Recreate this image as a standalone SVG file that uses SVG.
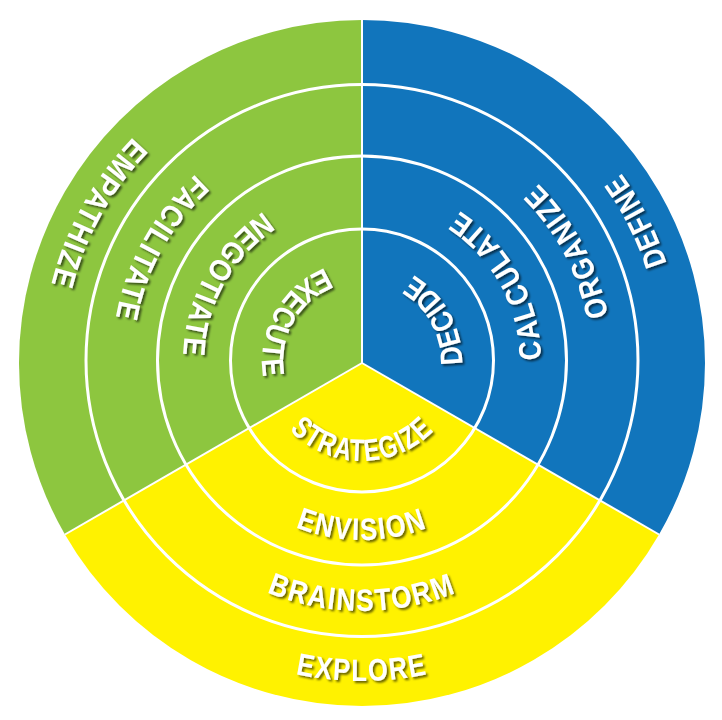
<svg xmlns="http://www.w3.org/2000/svg" xmlns:xlink="http://www.w3.org/1999/xlink" width="722" height="720" viewBox="0 0 722 720">
<style>
  .lbl { font-family: "Liberation Sans", Arial, sans-serif; font-weight: bold; font-size: 31px; letter-spacing: 2px; fill: #ffffff; filter: url(#shadow); }
  .ring { fill: none; stroke: #ffffff; stroke-width: 3; }
  .div { stroke: #ffffff; stroke-width: 2; }
</style>
<defs>
  <filter id="shadow" x="-20%" y="-40%" width="140%" height="180%">
    <feDropShadow dx="2" dy="2" stdDeviation="1.3" flood-color="#000000" flood-opacity="0.6"/>
  </filter>
  <path id="y0" d="M263.52,378.36 A100,100 0 0 0 460.48,378.36"/>
  <path id="y1" d="M206.98,450.5 A179,179 0 0 0 517.02,450.5"/>
  <path id="y2" d="M145.49,486 A250,250 0 0 0 578.51,486"/>
  <path id="y3" d="M84.87,521 A320,320 0 0 0 639.13,521"/>
  <path id="g0" d="M394.56,266.45 A100,100 0 0 0 299.07,438.72"/>
  <path id="g1" d="M358.88,182.03 A179,179 0 0 0 208.57,453.19"/>
  <path id="g2" d="M357.64,111.04 A250,250 0 0 0 147.71,489.76"/>
  <path id="g3" d="M356.42,41.05 A320,320 0 0 0 87.71,525.81"/>
  <path id="b0" d="M424.93,438.72 A100,100 0 0 0 329.44,266.45"/>
  <path id="b1" d="M515.43,453.19 A179,179 0 0 0 365.12,182.03"/>
  <path id="b2" d="M574.01,493.48 A250,250 0 0 0 370.72,111.15"/>
  <path id="b3" d="M630.37,535.28 A320,320 0 0 0 378.75,41.44"/>
</defs>
<rect width="722" height="720" fill="#ffffff"/>
<g id="sector-green">
  <path d="M362,363 L362,20 A343,343 0 0 0 64.95,534.5 Z" fill="#8DC63F"/>
</g>
<g id="sector-blue">
  <path d="M362,363 L362,20 A343,343 0 0 1 659.05,534.5 Z" fill="#1175BC"/>
</g>
<g id="sector-yellow">
  <path d="M362,363 L64.95,534.5 A343,343 0 0 0 659.05,534.5 Z" fill="#FFF200"/>
</g>
<g id="rings">
  <circle class="ring" cx="362" cy="360.5" r="131.5"/>
  <circle class="ring" cx="362" cy="360.5" r="204.5"/>
  <circle class="ring" cx="362" cy="360.5" r="276"/>
</g>
<g id="connectors">
  <line class="div" x1="362" y1="363" x2="362" y2="20"/>
  <line class="div" x1="362" y1="363" x2="64.95" y2="534.5"/>
  <line class="div" x1="362" y1="363" x2="659.05" y2="534.5"/>
</g>
<g id="labels-yellow">
  <g id="strategize"><text class="lbl" text-anchor="middle"><textPath xlink:href="#y0" href="#y0" startOffset="50%" textLength="162" lengthAdjust="spacingAndGlyphs">STRATEGIZE</textPath></text></g>
  <g id="envision"><text class="lbl" text-anchor="middle"><textPath xlink:href="#y1" href="#y1" startOffset="50%" textLength="136" lengthAdjust="spacingAndGlyphs">ENVISION</textPath></text></g>
  <g id="brainstorm"><text class="lbl" text-anchor="middle"><textPath xlink:href="#y2" href="#y2" startOffset="50%" textLength="195" lengthAdjust="spacingAndGlyphs">BRAINSTORM</textPath></text></g>
  <g id="explore"><text class="lbl" text-anchor="middle"><textPath xlink:href="#y3" href="#y3" startOffset="50%" textLength="134" lengthAdjust="spacingAndGlyphs">EXPLORE</textPath></text></g>
</g>
<g id="labels-green">
  <g id="execute"><text class="lbl" text-anchor="middle"><textPath xlink:href="#g0" href="#g0" startOffset="50%" textLength="137" lengthAdjust="spacingAndGlyphs">EXECUTE</textPath></text></g>
  <g id="negotiate"><text class="lbl" text-anchor="middle"><textPath xlink:href="#g1" href="#g1" startOffset="50%" textLength="172" lengthAdjust="spacingAndGlyphs">NEGOTIATE</textPath></text></g>
  <g id="facilitate"><text class="lbl" text-anchor="middle"><textPath xlink:href="#g2" href="#g2" startOffset="50%" textLength="169" lengthAdjust="spacingAndGlyphs">FACILITATE</textPath></text></g>
  <g id="empathize"><text class="lbl" text-anchor="middle"><textPath xlink:href="#g3" href="#g3" startOffset="50%" textLength="172" lengthAdjust="spacingAndGlyphs">EMPATHIZE</textPath></text></g>
</g>
<g id="labels-blue">
  <g id="decide"><text class="lbl" text-anchor="middle"><textPath xlink:href="#b0" href="#b0" startOffset="50%" textLength="108" lengthAdjust="spacingAndGlyphs">DECIDE</textPath></text></g>
  <g id="calculate"><text class="lbl" text-anchor="middle"><textPath xlink:href="#b1" href="#b1" startOffset="50%" textLength="178" lengthAdjust="spacingAndGlyphs">CALCULATE</textPath></text></g>
  <g id="organize"><text class="lbl" text-anchor="middle"><textPath xlink:href="#b2" href="#b2" startOffset="50%" textLength="154" lengthAdjust="spacingAndGlyphs">ORGANIZE</textPath></text></g>
  <g id="define"><text class="lbl" text-anchor="middle"><textPath xlink:href="#b3" href="#b3" startOffset="50%" textLength="103" lengthAdjust="spacingAndGlyphs">DEFINE</textPath></text></g>
</g>
</svg>
